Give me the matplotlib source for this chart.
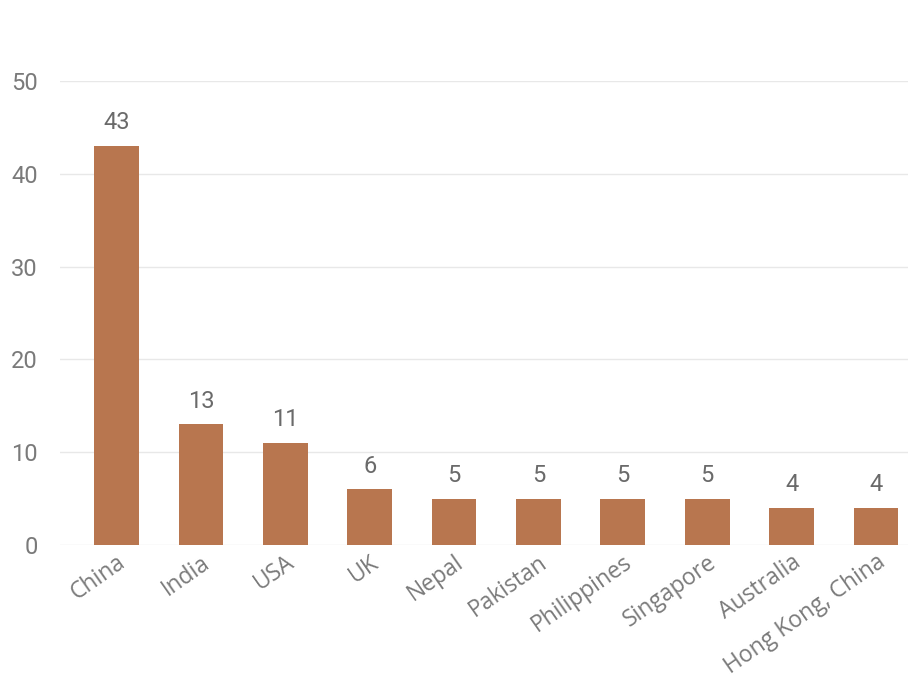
import matplotlib
matplotlib.use("Agg")
import matplotlib.pyplot as plt

categories = ["China", "India", "USA", "UK", "Nepal", "Pakistan", "Philippines",
              "Singapore", "Australia", "Hong Kong, China"]
values = [43, 13, 11, 6, 5, 5, 5, 5, 4, 4]
yticks = [0, 10, 20, 30, 40, 50]

plt.rcParams['font.family'] = ['Open Sans', 'DejaVu Sans']

fig = plt.figure(figsize=(9.15, 6.84), dpi=100)
ax = fig.add_axes([0.0656, 0.2032, 0.9268, 0.6784])

x = list(range(len(categories)))
ax.bar(x, values, width=0.53, color="#B8764F", zorder=3)
for xi, v in zip(x, values):
    ax.annotate(str(v), (xi, v), xytext=(0, 12), textcoords="offset points",
                ha="center", va="baseline", fontsize=17, color="#6a6a6a",
                family=["Roboto", "DejaVu Sans"])

ax.set_xlim(-0.67, 9.38)
ax.set_ylim(0, 50)
ax.set_yticks(yticks)
ax.set_yticklabels([str(t) for t in yticks], fontsize=17, color="#7a7a7a",
                   family=["Roboto", "DejaVu Sans"])
ax.yaxis.grid(True, color="#e8e8e8", linewidth=1, zorder=0)
ax.set_axisbelow(True)
ax.set_xticks(x)
ax.set_xticklabels(categories, rotation=35, ha="right", va="top",
                   rotation_mode="anchor", fontsize=16.5, color="#7a7a7a")
ax.tick_params(axis="both", length=0)
ax.tick_params(axis="y", pad=16)
ax.tick_params(axis="x", pad=4)
for s in ax.spines.values():
    s.set_visible(False)

fig.savefig("out.png", dpi=100)
